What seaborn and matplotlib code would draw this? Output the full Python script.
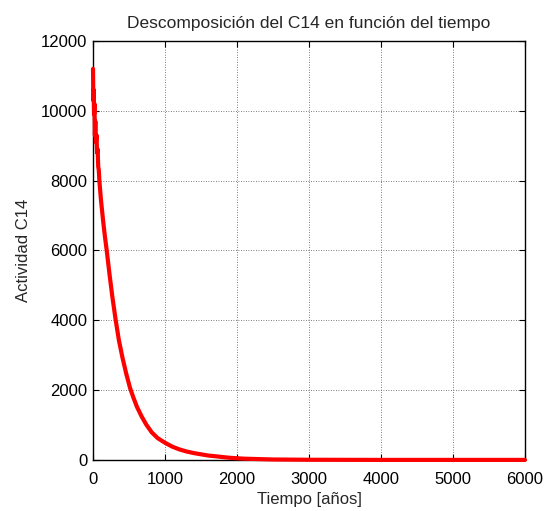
import matplotlib
matplotlib.use("Agg")
import matplotlib.pyplot as plt
import seaborn as sns
import pandas as pd

# Data
tiempo = [0, 4, 8, 14, 20, 26, 32, 40, 48, 56, 64, 72, 80, 88, 110, 140, 165, 190,
          230, 270, 315, 360, 410, 460, 514, 560, 610, 676, 740, 815, 900, 1000,
          1100, 1200, 1300, 1400, 1486, 1600, 1764, 1900, 2100, 2500, 3000, 4000, 5000, 6000]
actividad = [11200, 10300, 10600, 9900, 10200, 9300, 9700, 9100, 9300, 8800, 8900, 8400, 8300, 8000,
             7450, 6850, 6400, 6000, 5300, 4650, 4000, 3420, 2920, 2480, 2060, 1790, 1520, 1240,
             1010, 790, 620, 490, 380, 300, 240, 195, 165, 125, 90, 60, 35, 12, 4, 0, 0, 0]

titulo = "Descomposición del C14 en función del tiempo"
xlabel = "Tiempo [años]"
ylabel = "Actividad C14"
xticks = [0, 1000, 2000, 3000, 4000, 5000, 6000]
yticks = [0, 2000, 4000, 6000, 8000, 10000, 12000]

sns.set_style("white")
plt.rcParams["font.family"] = ["Liberation Sans", "DejaVu Sans"]
plt.rcParams["font.size"] = 12

df = pd.DataFrame({"t": tiempo, "a": actividad})

fig = plt.figure(figsize=(5.44, 5.11), dpi=100)
ax = fig.add_axes([0.171, 0.100, 0.794, 0.820])

sns.lineplot(data=df, x="t", y="a", ax=ax, color="#ff0000", linewidth=3.0,
             estimator=None, sort=False, zorder=5)
for l in ax.lines:
    l.set_clip_on(False)

ax.set_xlim(0, 6000)
ax.set_ylim(0, 12000)
ax.set_xticks(xticks)
ax.set_yticks(yticks)
ax.set_xticklabels([str(v) for v in xticks])
ax.set_yticklabels([str(v) for v in yticks])
ax.grid(True, color="#555555", linestyle=(0, (1, 2)), linewidth=0.6)
ax.tick_params(direction="in", length=4, width=0.8, top=True, right=True,
               bottom=True, left=True, labelsize=12, colors="black", pad=4)
ax.tick_params(axis="x", pad=9)
for s in ax.spines.values():
    s.set_visible(True)
    s.set_color("black")
    s.set_linewidth(1.0)

ax.set_title(titulo, fontsize=12.5, pad=9)
ax.set_xlabel(xlabel, fontsize=12, labelpad=3)
ax.set_ylabel(ylabel, fontsize=12, labelpad=7)

fig.savefig("out.png", dpi=100)
